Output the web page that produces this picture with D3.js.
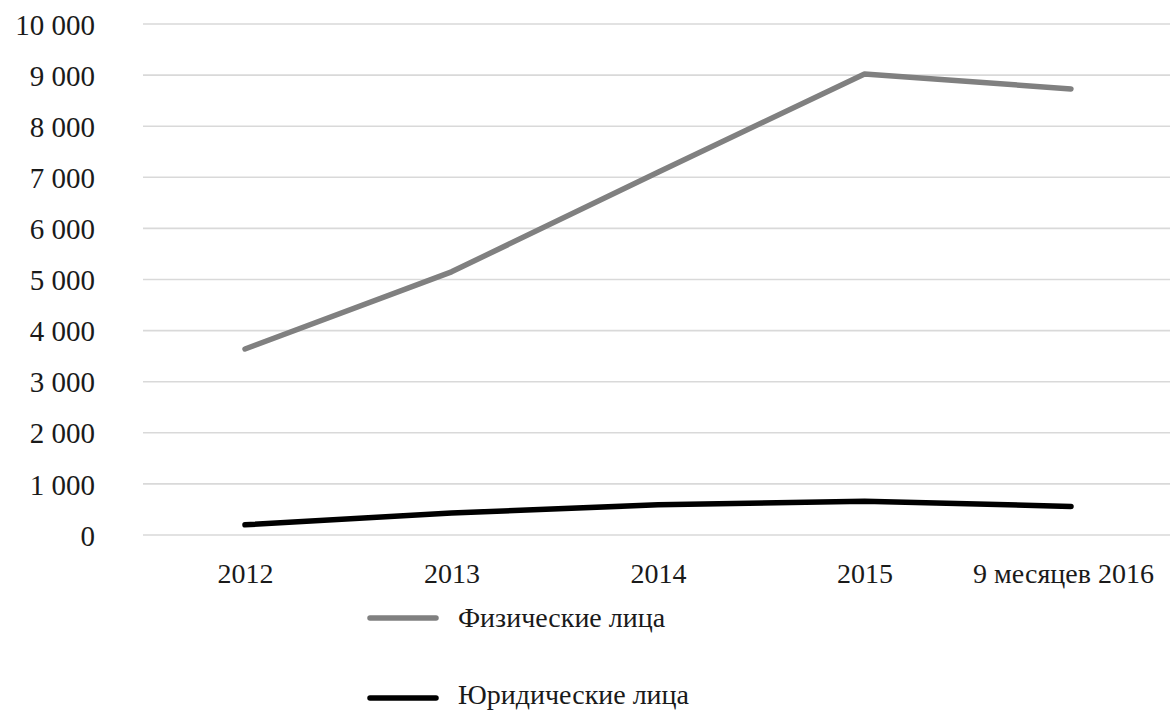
<!DOCTYPE html>
<html>
<head>
<meta charset="utf-8">
<script src="https://cdn.jsdelivr.net/npm/d3@7"></script>
<style>
  html, body { margin: 0; padding: 0; background: #fff; }
  svg { display: block; }
  text { font-family: "Liberation Serif", "Times New Roman", serif; fill: #1a1a1a; }
</style>
</head>
<body>
<svg id="chart" width="1170" height="712"></svg>
<script>
// Categories (x axis)
const categories = ["2012", "2013", "2014", "2015", "9 месяцев 2016"];
// Series values
const individuals = [3640, 5150, 7100, 9020, 8730];   // Физические лица
const legalEntities = [200, 430, 590, 660, 560];      // Юридические лица
// Y tick values
const yTicks = [0, 1000, 2000, 3000, 4000, 5000, 6000, 7000, 8000, 9000, 10000];
const seriesNames = ["Физические лица", "Юридические лица"];
const seriesColors = ["#808080", "#000000"];

const svg = d3.select("#chart");
const fontSize = 28;

const x = d3.scalePoint().domain(categories).range([245, 1071]);
const y = d3.scaleLinear().domain([0, 10000]).range([535, 24]);

const fmt = v => d3.format(",")(v).replace(/,/g, " ");

// Horizontal gridlines
svg.append("g")
  .selectAll("line")
  .data(yTicks)
  .join("line")
  .attr("x1", 143).attr("x2", 1170)
  .attr("y1", d => y(d)).attr("y2", d => y(d))
  .attr("stroke", "#d9d9d9")
  .attr("stroke-width", 1.6);

// Y axis labels
const yAxis = d3.axisLeft(y).tickValues(yTicks).tickFormat(fmt).tickSize(0).tickPadding(0);
const gy = svg.append("g").attr("transform", "translate(95,0)").call(yAxis);
gy.select(".domain").remove();
gy.selectAll("text")
  .attr("font-size", 29)
  .attr("font-family", "Liberation Serif, serif")
  .attr("fill", "#1a1a1a")
  .attr("dy", "0.35em");

// X axis labels
const xAxis = d3.axisBottom(x).tickSize(0).tickPadding(0);
const gx = svg.append("g").attr("transform", "translate(0,573)").call(xAxis);
gx.select(".domain").remove();
gx.selectAll("text")
  .attr("font-size", fontSize)
  .attr("font-family", "Liberation Serif, serif")
  .attr("fill", "#1a1a1a")
  .attr("dy", "0.35em")
  .attr("y", 0)
  .attr("dx", d => d === categories[categories.length - 1] ? -8 : 0);

// Lines
const line = d3.line()
  .x((d, i) => x(categories[i]))
  .y(d => y(d));

[individuals, legalEntities].forEach((vals, k) => {
  svg.append("path")
    .datum(vals)
    .attr("d", line)
    .attr("fill", "none")
    .attr("stroke", seriesColors[k])
    .attr("stroke-width", 5.5)
    .attr("stroke-linecap", "round")
    .attr("stroke-linejoin", "round");
});

// Legend
const legendY = [618, 698];
const legendTextY = [617, 694];
seriesNames.forEach((name, k) => {
  const g = svg.append("g");
  g.append("line")
    .attr("x1", 370).attr("x2", 436)
    .attr("y1", legendY[k]).attr("y2", legendY[k])
    .attr("stroke", seriesColors[k])
    .attr("stroke-width", 5.5)
    .attr("stroke-linecap", "round");
  g.append("text")
    .attr("x", 458)
    .attr("y", legendTextY[k])
    .attr("dy", "0.35em")
    .attr("font-size", fontSize)
    .text(name);
});
</script>
</body>
</html>
